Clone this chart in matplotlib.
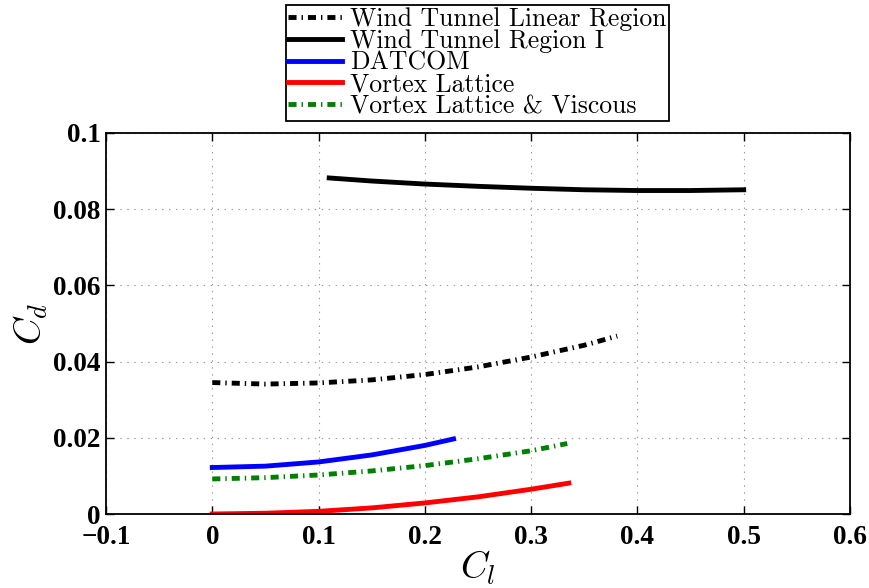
import numpy as np
import matplotlib.pyplot as plt

plt.rcParams['mathtext.fontset'] = 'cm'
plt.rcParams['lines.scale_dashes'] = False
plt.rcParams['axes.formatter.use_mathtext'] = True

# Wind tunnel data, linear region
cl_lin = [0.0, 0.05, 0.10, 0.15, 0.20, 0.25, 0.30, 0.35, 0.381]
cd_lin = [0.0345, 0.0341, 0.0344, 0.0352, 0.0366, 0.0386, 0.0412, 0.0443, 0.0467]

# Wind tunnel data, region I
cl_reg1 = [0.11, 0.15, 0.20, 0.25, 0.30, 0.35, 0.40, 0.45, 0.50]
cd_reg1 = [0.0882, 0.0874, 0.0866, 0.0860, 0.0855, 0.0851, 0.0849, 0.0849, 0.0851]

# DATCOM
cl_dat = [0.0, 0.05, 0.10, 0.15, 0.20, 0.227]
cd_dat = [0.0122, 0.01256, 0.01366, 0.0155, 0.0180, 0.0197]

# Vortex lattice
cl_vl = [0.0, 0.05, 0.10, 0.15, 0.20, 0.25, 0.30, 0.3355]
cd_vl = [0.0, 0.0002, 0.0007, 0.0016, 0.0029, 0.0045, 0.0065, 0.0081]

# Vortex lattice + viscous
cl_vlv = [0.0, 0.05, 0.10, 0.15, 0.20, 0.25, 0.30, 0.334]
cd_vlv = [0.0092, 0.00954, 0.01024, 0.0113, 0.0127, 0.0145, 0.0166, 0.0185]

xtick_labels = ['\u22120.1', '0', '0.1', '0.2', '0.3', '0.4', '0.5', '0.6']
ytick_labels = ['0', '0.02', '0.04', '0.06', '0.08', '0.1']

dashdot = [5.8, 3.6, 1.0, 3.6]

fig = plt.figure(figsize=(8.7, 5.88), dpi=100)
ax = fig.add_axes([106/870, 1 - 514/588, 744/870, 381/588])

ax.plot(cl_lin, cd_lin, color='k', lw=3.5, dashes=dashdot, label='Wind Tunnel Linear Region')
ax.plot(cl_reg1, cd_reg1, color='k', lw=3.5, label='Wind Tunnel Region I')
ax.plot(cl_dat, cd_dat, color='b', lw=3.5, label='DATCOM')
ax.plot(cl_vl, cd_vl, color='r', lw=3.5, label='Vortex Lattice')
ax.plot(cl_vlv, cd_vlv, color='g', lw=3.5, dashes=dashdot, label='Vortex Lattice & Viscous')

ax.set_xlim(-0.1, 0.6)
ax.set_ylim(0, 0.1)
ax.set_xticks(np.arange(-0.1, 0.61, 0.1))
ax.set_yticks(np.arange(0, 0.101, 0.02))
ax.set_xticklabels(xtick_labels)
ax.set_yticklabels(ytick_labels)
for lab in ax.get_xticklabels() + ax.get_yticklabels():
    lab.set_fontfamily('Liberation Serif')
    lab.set_fontweight('bold')
    lab.set_fontsize(19.5)

ax.tick_params(direction='in', length=6, width=1, top=True, right=True)
ax.tick_params(axis='x', pad=8)
ax.tick_params(axis='y', pad=4)
ax.grid(True, color='#999999', linestyle=(0, (1, 4)), linewidth=0.8)
for sp in ax.spines.values():
    sp.set_linewidth(1.3)

ax.set_xlabel('$C_l$', fontsize=27, labelpad=-1)
ax.set_ylabel('$C_d$', fontsize=27, labelpad=2)

leg = fig.legend(loc='upper center', bbox_to_anchor=(477.5/870, 1 - 5/588),
                 prop={'family': 'cmr10', 'size': 18.5}, handlelength=2.1,
                 handletextpad=0.3, labelspacing=-0.08, borderpad=0.1,
                 borderaxespad=0, fancybox=False, framealpha=1)
leg.get_frame().set_edgecolor('k')
leg.get_frame().set_linewidth(1.3)

fig.savefig('out.png', dpi=100)
